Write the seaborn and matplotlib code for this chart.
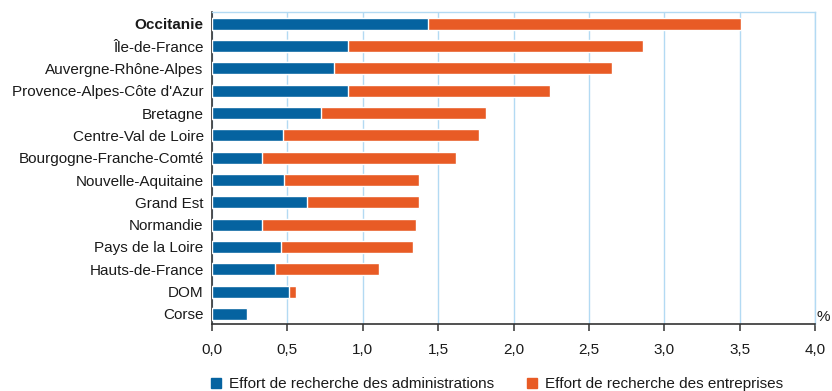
import matplotlib
matplotlib.use("Agg")
import matplotlib.pyplot as plt
from matplotlib.lines import Line2D
from matplotlib.ticker import FuncFormatter
import seaborn as sns
import pandas as pd

regions = [
    "Occitanie", "Île-de-France", "Auvergne-Rhône-Alpes",
    "Provence-Alpes-Côte d'Azur", "Bretagne", "Centre-Val de Loire",
    "Bourgogne-Franche-Comté", "Nouvelle-Aquitaine", "Grand Est",
    "Normandie", "Pays de la Loire", "Hauts-de-France", "DOM", "Corse",
]
effort_administrations = [1.43, 0.90, 0.81, 0.90, 0.72, 0.47, 0.33,
                          0.48, 0.63, 0.33, 0.46, 0.42, 0.51, 0.23]
effort_entreprises = [2.08, 1.96, 1.84, 1.34, 1.10, 1.30, 1.29,
                      0.89, 0.74, 1.02, 0.87, 0.69, 0.05, 0.00]
x_ticks = [0.0, 0.5, 1.0, 1.5, 2.0, 2.5, 3.0, 3.5, 4.0]
legend_labels = ["Effort de recherche des administrations",
                 "Effort de recherche des entreprises"]

BLUE = "#0563A0"
ORANGE = "#E85B25"
GRID = "#B3DAF3"
DARK = "#333333"
TEXT = "#1a1a1a"
FS = 11.0

sns.set_theme(style="white")
plt.rcParams["font.family"] = ["Liberation Sans", "DejaVu Sans"]

df = pd.DataFrame({
    "region": regions,
    "admin": effort_administrations,
    "total": [a + e for a, e in zip(effort_administrations, effort_entreprises)],
})

fig = plt.figure(figsize=(8.32, 3.91), dpi=100)
ax = fig.add_axes([0.2548, 0.1714, 0.7248, 0.7979])

# stacked horizontal bars: total (orange) underneath, administrations (blue) on top
sns.barplot(data=df, y="region", x="total", color=ORANGE, width=0.54,
            saturation=1, ax=ax, zorder=3)
sns.barplot(data=df, y="region", x="admin", color=BLUE, width=0.54,
            saturation=1, ax=ax, zorder=4)

ax.set_xlim(0, 4.0)
ax.set_ylim(13.45, -0.53)
ax.set_xticks(x_ticks)
ax.xaxis.set_major_formatter(FuncFormatter(lambda v, _: f"{v:.1f}".replace(".", ",")))
ax.set_xlabel("")
ax.set_ylabel("")

ax.grid(axis="x", color=GRID, linewidth=1.0, zorder=0)
ax.grid(axis="y", visible=False)
ax.set_axisbelow(True)

for side in ("top", "right"):
    ax.spines[side].set_color(GRID)
    ax.spines[side].set_linewidth(1.0)
for side in ("left", "bottom"):
    ax.spines[side].set_color(DARK)
    ax.spines[side].set_linewidth(1.2)

ax.tick_params(axis="x", direction="out", length=5, width=1.1, color=DARK,
               labelsize=FS, labelcolor=TEXT, pad=9, bottom=True)
ax.tick_params(axis="y", length=0, labelsize=FS, labelcolor=TEXT, pad=6)
for lbl in ax.get_yticklabels():
    if lbl.get_text() == "Occitanie":
        lbl.set_fontweight("bold")

ax.text(1.003, 0.0, "%", transform=ax.transAxes, ha="left", va="bottom",
        fontsize=FS, color=TEXT)

handles = [
    Line2D([], [], marker="s", linestyle="none", markersize=6.5,
           markerfacecolor=BLUE, markeredgecolor=BLUE),
    Line2D([], [], marker="s", linestyle="none", markersize=6.5,
           markerfacecolor=ORANGE, markeredgecolor=ORANGE),
]
fig.legend(handles, legend_labels, loc="lower left", bbox_to_anchor=(0.2356, -0.036),
           ncol=2, frameon=False, fontsize=11.0, handlelength=0.8,
           handletextpad=0.45, columnspacing=2.1, labelcolor=TEXT)

fig.savefig("out.png", dpi=100)
